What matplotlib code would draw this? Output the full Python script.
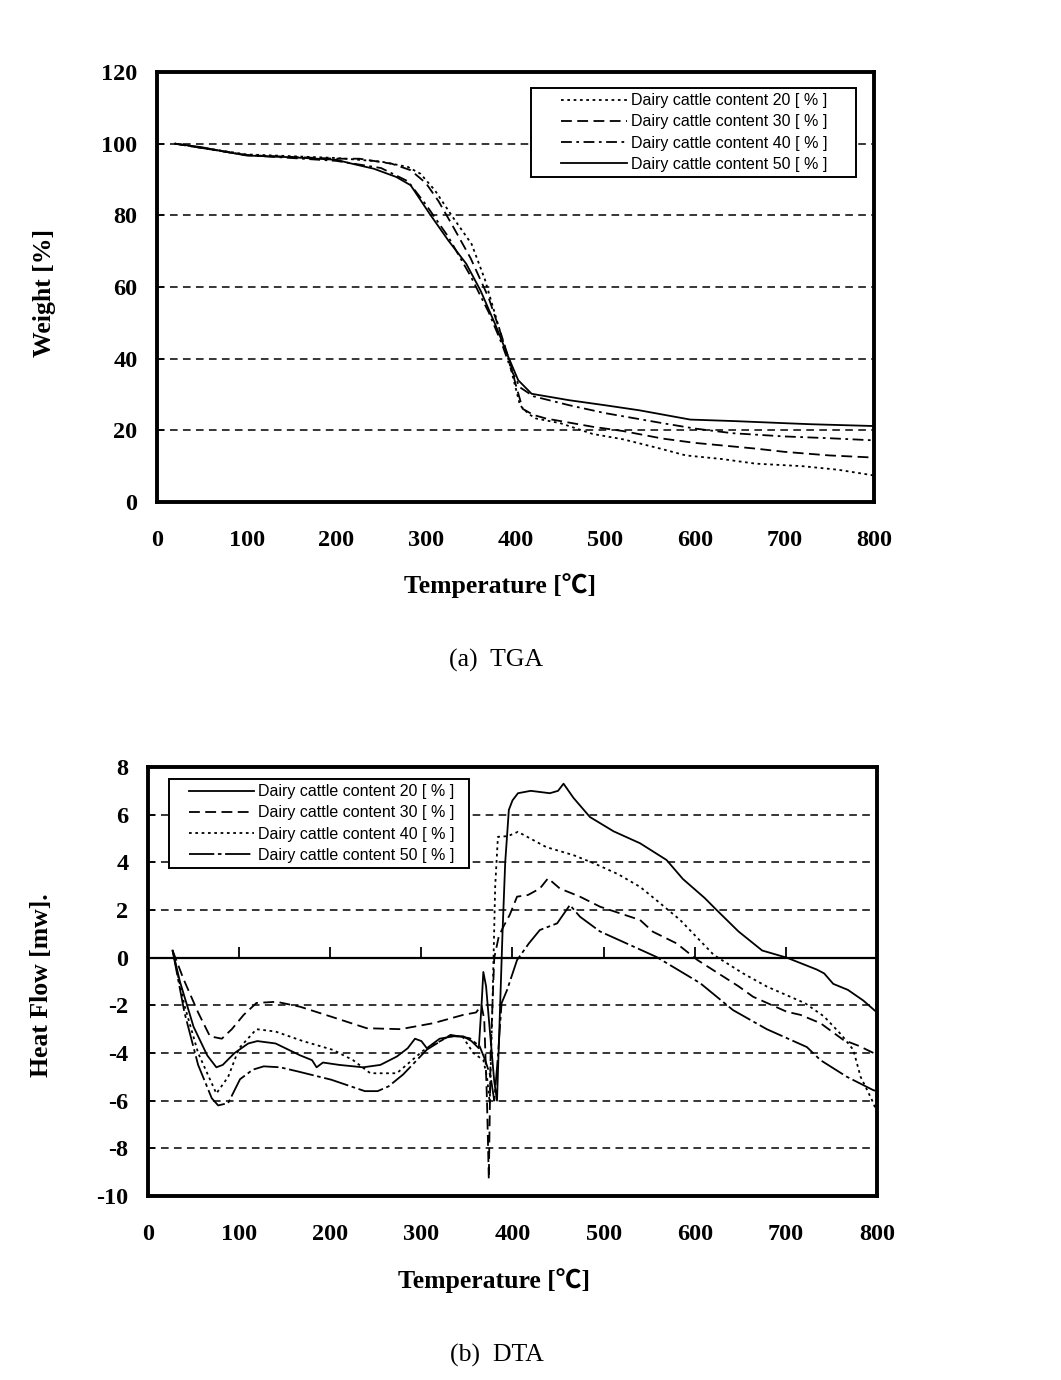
import matplotlib
matplotlib.use("Agg")
import numpy as np
import matplotlib.pyplot as plt
from matplotlib.legend_handler import HandlerLine2D

plt.rcParams['axes.unicode_minus'] = False

# ---------------- TGA data ----------------
tga_t20 = [20, 100, 200, 250, 280, 294, 310, 330, 351, 366, 380, 392, 400, 405, 415, 423, 450, 486, 520, 560, 590, 630, 668, 720, 760, 800]
tga_w20 = [100, 97, 96, 95, 93.5, 91.6, 87, 79.5, 72, 62, 50, 40, 32, 27, 24.5, 23.3, 22, 19, 17.5, 15, 13, 12, 10.7, 10, 9, 7.4]

tga_t30 = [20, 100, 200, 226, 262, 283, 300, 314, 330, 350, 370, 385, 395, 400, 408, 420, 434, 486, 520, 564, 600, 668, 700, 750, 800]
tga_w30 = [100, 96.8, 95.8, 95.8, 94.4, 92.6, 89, 84, 77, 68, 57, 46, 38, 33, 26, 24.3, 23.3, 21, 19.8, 17.7, 16.5, 14.9, 14, 13, 12.4]

tga_t40 = [20, 100, 200, 250, 280, 300, 325, 350, 370, 385, 395, 405, 420, 460, 500, 564, 600, 642, 700, 750, 800]
tga_w40 = [100, 96.8, 95.2, 93.2, 89.5, 83, 74, 63, 53, 44, 37, 32, 29.5, 27, 24.8, 22, 20.5, 19.2, 18.3, 17.8, 17.2]

tga_t50 = [20, 50, 75, 100, 150, 200, 216, 242, 267, 283, 304, 325, 345, 361, 377, 392, 403, 418, 460, 500, 538, 595, 642, 700, 730, 800]
tga_w50 = [100, 99, 97.8, 96.7, 96.2, 95.5, 94.5, 93, 90.7, 88.4, 80.5, 73, 66.5, 59, 49.8, 40.5, 34, 30.2, 28.4, 27, 25.6, 23, 22.6, 22, 21.7, 21.2]

tga_labels = ["Dairy cattle content 20 [ % ]", "Dairy cattle content 30 [ % ]",
              "Dairy cattle content 40 [ % ]", "Dairy cattle content 50 [ % ]"]

# ---------------- DTA data ----------------
dta_t20 = [27, 35, 50, 65, 75, 82, 95, 110, 120, 140, 167, 180, 185, 192, 210, 236, 255, 273, 285, 293, 300, 306, 320, 335, 346, 355, 363, 366, 368, 371, 375, 380, 383, 386, 389, 392, 396, 400, 406, 420, 441, 450, 456, 467, 485, 511, 540, 569, 587, 611, 624, 648, 674, 701, 734, 742, 752, 768, 785, 800]
dta_v20 = [0.3, -1.0, -2.9, -4.1, -4.6, -4.5, -4.0, -3.6, -3.5, -3.6, -4.1, -4.3, -4.6, -4.4, -4.5, -4.6, -4.5, -4.15, -3.8, -3.4, -3.5, -3.8, -3.4, -3.3, -3.3, -3.5, -3.8, -2.0, -0.6, -1.2, -3.0, -5.2, -6.0, -2.5, 1.0, 4.0, 6.2, 6.6, 6.9, 7.0, 6.9, 7.0, 7.3, 6.7, 5.9, 5.3, 4.8, 4.1, 3.3, 2.5, 2.0, 1.1, 0.3, 0.0, -0.5, -0.66, -1.1, -1.35, -1.8, -2.3]

dta_t30 = [27, 39, 55, 68, 81, 92, 105, 119, 141, 167, 203, 240, 277, 313, 346, 360, 366, 369, 372, 374, 376, 380, 385, 390, 397, 405, 417, 430, 439, 452, 474, 496, 540, 554, 580, 603, 648, 664, 701, 716, 738, 763, 780, 800]
dta_v30 = [0.3, -0.9, -2.3, -3.3, -3.4, -3.0, -2.4, -1.9, -1.85, -2.06, -2.5, -2.96, -3.0, -2.75, -2.4, -2.3, -2.0, -2.6, -6.0, -9.3, -4.0, 0.0, 0.9, 1.3, 1.8, 2.56, 2.63, 2.9, 3.33, 2.9, 2.56, 2.14, 1.58, 1.09, 0.6, -0.1, -1.2, -1.64, -2.27, -2.4, -2.75, -3.45, -3.7, -4.07]

dta_t40 = [27, 40, 55, 75, 88, 100, 119, 140, 170, 203, 225, 244, 273, 302, 330, 345, 357, 368, 372, 375, 378, 381, 384, 395, 406, 437, 467, 490, 516, 540, 558, 584, 621, 653, 679, 721, 742, 761, 774, 782, 789, 796, 800]
dta_v40 = [0.3, -2.0, -4.0, -5.7, -5.0, -3.8, -3.0, -3.1, -3.5, -3.87, -4.3, -4.85, -4.85, -3.9, -3.3, -3.3, -4.0, -4.3, -5.0, -6.1, -2.0, 3.0, 5.07, 5.1, 5.28, 4.64, 4.3, 3.95, 3.5, 2.97, 2.41, 1.58, 0.11, -0.66, -1.21, -1.91, -2.47, -3.24, -3.87, -5.0, -5.54, -6.1, -6.5]

dta_t50 = [27, 40, 55, 70, 77, 88, 101, 115, 127, 145, 164, 201, 238, 252, 264, 280, 306, 332, 353, 364, 370, 376, 380, 384, 388, 394, 405, 418, 430, 449, 463, 474, 496, 525, 558, 606, 642, 679, 723, 738, 767, 796, 800]
dta_v50 = [0.3, -2.3, -4.5, -5.9, -6.2, -6.1, -5.1, -4.7, -4.56, -4.6, -4.77, -5.12, -5.6, -5.6, -5.4, -4.9, -3.86, -3.24, -3.38, -3.72, -4.3, -5.0, -6.0, -4.15, -1.91, -1.36, -0.1, 0.6, 1.16, 1.44, 2.21, 1.72, 1.1, 0.6, 0.03, -1.07, -2.2, -3.0, -3.75, -4.3, -5.0, -5.56, -5.6]

dta_labels = tga_labels

x_ticks = [0, 100, 200, 300, 400, 500, 600, 700, 800]
tga_yticks = [0, 20, 40, 60, 80, 100, 120]
dta_yticks = [-10, -8, -6, -4, -2, 0, 2, 4, 6, 8]

# ---------------- styles ----------------
SERIF = ['Liberation Serif', 'Noto Sans CJK KR', 'DejaVu Sans']
SANS = ['Liberation Sans', 'DejaVu Sans']
LW = 1.3
DOT = (0, (1.5, 2.0))
DASH = (0, (6, 3))
DASHDOT = (0, (6, 2.5, 1.5, 2.5))
DASHDOT_LONG = (0, (14, 2, 2, 2))
GRID_LS = (0, (5, 3.5))
TICK_FS = 17.5
LABEL_FS = 18.5


class RightHandle(HandlerLine2D):
    """Legend line occupying only the right part of the handle box."""
    def __init__(self, frac, **kw):
        super().__init__(**kw)
        self.frac = frac

    def get_xdata(self, legend, xdescent, ydescent, width, height, fontsize):
        xd = np.array([-xdescent + width * self.frac, -xdescent + width])
        return xd, xd


fig = plt.figure(figsize=(10.61, 13.80), dpi=100)


def style_axes(ax, yticks, ylim):
    ax.set_xlim(0, 800)
    ax.set_ylim(*ylim)
    ax.set_xticks(x_ticks)
    ax.set_yticks(yticks)
    for s in ax.spines.values():
        s.set_linewidth(2.8)
        s.set_color('black')
    ax.tick_params(axis='y', direction='in', length=5, width=1.2, pad=14)
    ax.tick_params(axis='x', length=0, pad=20)
    for lab in ax.get_xticklabels() + ax.get_yticklabels():
        lab.set_fontfamily(SERIF)
        lab.set_fontweight('bold')
        lab.set_fontsize(TICK_FS)


def make_legend(ax, handles, labels, loc, anchor, hl, frac):
    leg = ax.legend(handles, labels, loc=loc, bbox_to_anchor=anchor, bbox_transform=fig.transFigure,
                    prop={'family': SANS, 'size': 11.5}, frameon=True, fancybox=False,
                    edgecolor='black', handlelength=hl, handletextpad=0.25,
                    borderpad=0.34, labelspacing=0.38, borderaxespad=0,
                    handler_map={h: RightHandle(frac) for h in handles})
    leg.get_frame().set_linewidth(1.4)
    leg.get_frame().set_alpha(1)
    leg.set_zorder(5)
    return leg


# ================= TGA =================
ax1 = fig.add_axes([157 / 1061, 1 - 502 / 1380, (874 - 157) / 1061, (502 - 72) / 1380])
for yv in tga_yticks[1:-1]:
    ax1.axhline(yv, color='black', lw=1.1, ls=GRID_LS, zorder=1)
h20, = ax1.plot(tga_t20, tga_w20, color='black', lw=LW, ls=DOT, zorder=3)
h30, = ax1.plot(tga_t30, tga_w30, color='black', lw=LW, ls=DASH, zorder=3)
h40, = ax1.plot(tga_t40, tga_w40, color='black', lw=LW, ls=DASHDOT, zorder=3)
h50, = ax1.plot(tga_t50, tga_w50, color='black', lw=LW, ls='-', zorder=3)
style_axes(ax1, tga_yticks, (0, 120))
make_legend(ax1, [h20, h30, h40, h50], [l + "     " for l in tga_labels], 'upper left',
            (531 / 1061, 1 - 88 / 1380), 5.7, 0.27)

fig.text(500 / 1061, 1 - 586 / 1380, "Temperature [℃]", ha='center', va='center',
         fontsize=LABEL_FS, fontweight='bold', family=SERIF)
fig.text(45 / 1061, 1 - 293 / 1380, "Weight [%]", ha='center', va='center', rotation=90,
         fontsize=LABEL_FS, fontweight='bold', family=SERIF)
fig.text(496 / 1061, 1 - 660 / 1380, "(a)  TGA", ha='center', va='center',
         fontsize=LABEL_FS, family=SERIF)

# ================= DTA =================
ax2 = fig.add_axes([148 / 1061, 1 - 1196 / 1380, (877 - 148) / 1061, (1196 - 767) / 1380])
for yv in [-8, -6, -4, -2, 2, 4, 6]:
    ax2.axhline(yv, color='black', lw=1.1, ls=GRID_LS, zorder=1)
g20, = ax2.plot(dta_t20, dta_v20, color='black', lw=LW, ls='-', zorder=3)
g30, = ax2.plot(dta_t30, dta_v30, color='black', lw=LW, ls=DASH, zorder=3)
g40, = ax2.plot(dta_t40, dta_v40, color='black', lw=LW, ls=DOT, zorder=3)
g50, = ax2.plot(dta_t50, dta_v50, color='black', lw=LW, ls=DASHDOT_LONG, zorder=3)
style_axes(ax2, dta_yticks, (-10, 8))

# zero line with upward tick marks
sec = ax2.secondary_xaxis(10 / 18)
sec.set_xticks(x_ticks[1:-1])
sec.tick_params(axis='x', direction='in', length=8, width=1.3, labelbottom=False, labeltop=False,
                bottom=True, top=False)
for name, sp in sec.spines.items():
    sp.set_linewidth(1.6)
    sp.set_color('black')

make_legend(ax2, [g20, g30, g40, g50], [l + "  " for l in dta_labels], 'upper left',
            (169 / 1061, 1 - 779 / 1380), 5.0, 0.18)

fig.text(494 / 1061, 1 - 1281 / 1380, "Temperature [℃]", ha='center', va='center',
         fontsize=LABEL_FS, fontweight='bold', family=SERIF)
fig.text(42 / 1061, 1 - 985 / 1380, "Heat Flow [mw].", ha='center', va='center', rotation=90,
         fontsize=LABEL_FS, fontweight='bold', family=SERIF)
fig.text(497 / 1061, 1 - 1355 / 1380, "(b)  DTA", ha='center', va='center',
         fontsize=LABEL_FS, family=SERIF)

fig.savefig("out.png", dpi=100, facecolor='white')
